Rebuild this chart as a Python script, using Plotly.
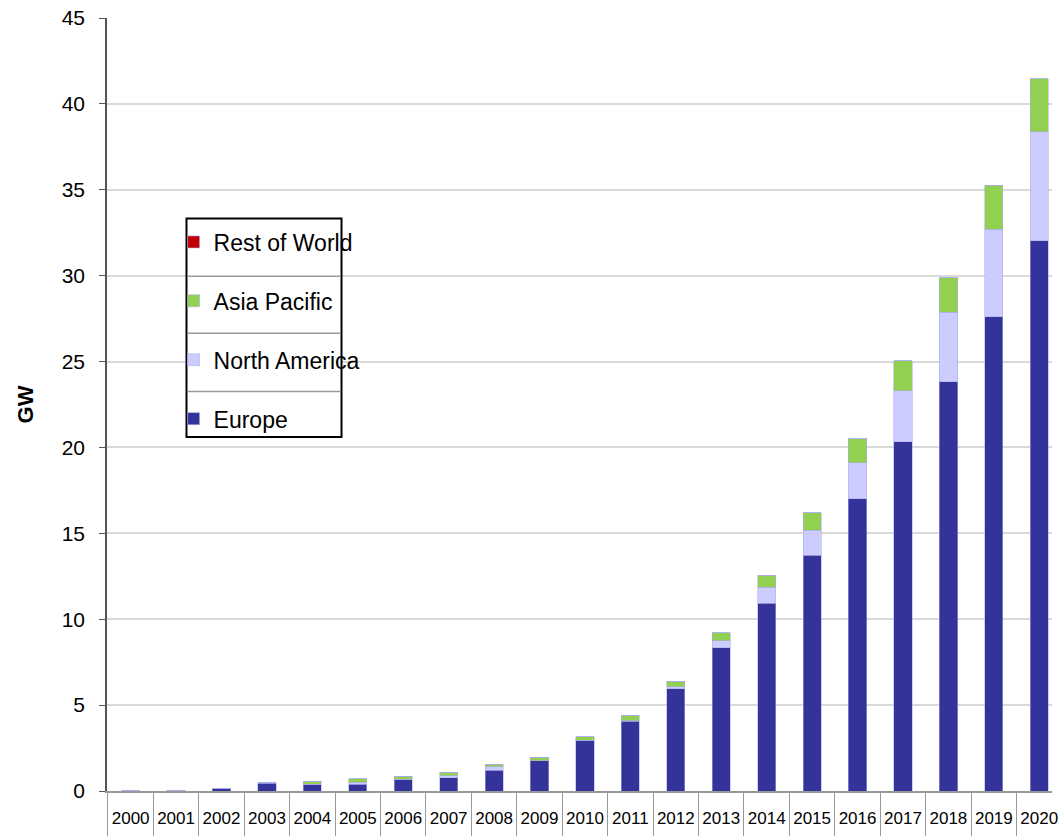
import plotly.graph_objects as go

years = [str(y) for y in range(2000, 2021)]
europe = [0.03, 0.03, 0.15, 0.45, 0.39, 0.39, 0.67, 0.78, 1.20, 1.76, 2.96, 4.05, 5.94,
          8.34, 10.92, 13.72, 17.00, 20.34, 23.83, 27.60, 32.02]
north_america = [0, 0, 0, 0.02, 0.01, 0.12, 0.0, 0.10, 0.20, 0.0, 0.0, 0.03, 0.14,
                 0.41, 0.94, 1.45, 2.10, 2.96, 4.03, 5.09, 6.35]
asia_pacific = [0, 0, 0, 0, 0.18, 0.19, 0.20, 0.20, 0.17, 0.20, 0.20, 0.32, 0.32,
                0.46, 0.70, 1.03, 1.40, 1.75, 2.03, 2.56, 3.09]
rest_of_world = [0] * 21

FONT = "Liberation Sans, Arial, sans-serif"

series = [
    ("Europe", europe, "#333399", 4),
    ("North America", north_america, "#CCCCFF", 3),
    ("Asia Pacific", asia_pacific, "#92D050", 2),
    ("Rest of World", rest_of_world, "#C00000", 1),
]

fig = go.Figure()
for name, vals, color, rank in series:
    fig.add_trace(go.Bar(
        x=years, y=vals, name=name, legendgroup=name, legendrank=rank,
        marker=dict(color=color, line=dict(color="rgba(170,170,235,0.7)", width=0.8)),
        width=0.4,
    ))

W, H = 1058, 836
L, R, T, B = 107, 0, 18, 43
pw, ph = W - L - R, H - T - B

def px(xp):
    return (xp - L) / pw

def py(yp):
    return 1 - (yp - T) / ph

shapes = [
    dict(type="rect", xref="paper", yref="paper", x0=px(187), x1=px(343), y0=py(438), y1=py(219),
         line=dict(color="black", width=2), fillcolor="white", layer="above"),
]
for yy in [277, 334, 392.5]:
    shapes.append(dict(type="line", xref="paper", yref="paper", x0=px(188), x1=px(342),
                       y0=py(yy), y1=py(yy), line=dict(color="#999999", width=1.5), layer="above"))

fig.update_layout(
    width=W, height=H,
    margin=dict(l=L, r=R, t=T, b=B),
    barmode="stack",
    plot_bgcolor="white", paper_bgcolor="white",
    font=dict(family=FONT, color="black"),
    shapes=shapes,
    showlegend=True,
    legend=dict(
        x=px(174), y=py(221), xanchor="left", yanchor="top",
        traceorder="grouped", tracegroupgap=26,
        bgcolor="rgba(0,0,0,0)", borderwidth=0,
        font=dict(family=FONT, size=23, color="black"),
        itemwidth=30,
    ),
    xaxis=dict(
        type="category", range=[-0.52, 20.28],
        showline=True, linecolor="#999999", linewidth=1.5,
        ticks="outside", tickson="boundaries", ticklen=45, tickcolor="#999999", tickwidth=1,
        tickfont=dict(family=FONT, size=17, color="black"),
        tickangle=0,
        ticklabelstandoff=11,
        showgrid=False,
    ),
    yaxis=dict(
        range=[0, 45], tickvals=[0, 5, 10, 15, 20, 25, 30, 35, 40, 45],
        showline=True, linecolor="#555555", linewidth=1.5,
        ticks="outside", ticklen=6, tickcolor="#555555",
        tickfont=dict(family=FONT, size=21, color="black"),
        ticklabelstandoff=10,
        showgrid=True, gridcolor="#D9D9D9", gridwidth=1.5,
        zeroline=False,
        title=dict(text="<b>GW</b>", font=dict(family=FONT, size=22, color="black"),
                   standoff=22),
    ),
)

fig.write_html("out.html")
